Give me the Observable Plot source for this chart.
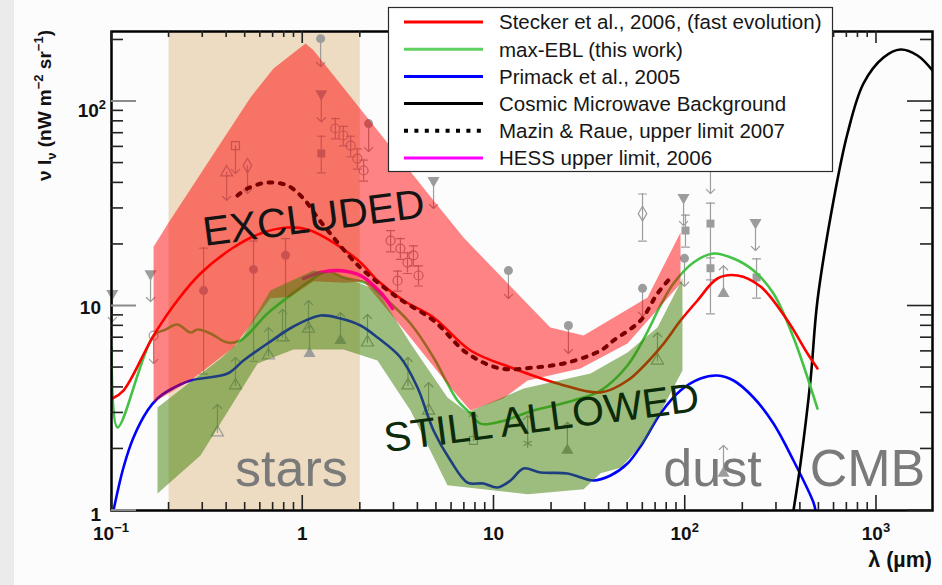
<!DOCTYPE html>
<html>
<head>
<meta charset="utf-8">
<script src="https://cdn.jsdelivr.net/npm/d3@7"></script>
<script src="https://cdn.jsdelivr.net/npm/@observablehq/plot@0.6"></script>
<style>
  html, body { margin: 0; padding: 0; background: #fcfcfd; }
  #wrap { position: relative; width: 942px; height: 585px; overflow: hidden; background: #fcfcfd; }
  #strip { position: absolute; left: 0; top: 0; width: 14px; height: 585px; background: #ebebeb; }
  #wrap svg { position: absolute; left: 0; top: 0; }
</style>
</head>
<body>
<div id="wrap"><div id="strip"></div></div>
<script>
// ---- axis ranges and ticks -------------------------------------------------
const xDomain = [0.1, 1963];            // wavelength, micrometres
const yDomain = [1, 220];               // nu I_nu, nW m^-2 sr^-1
const xMajor = [0.1, 1, 10, 100, 1000];
const xMajorText = ["10", "1", "10", "10", "10"];
const xMajorExp = ["-1", "", "", "2", "3"];
const xMinor = [0.2,0.3,0.4,0.5,0.6,0.7,0.8,0.9, 2,3,4,5,6,7,8,9, 20,30,40,50,60,70,80,90, 200,300,400,500,600,700,800,900];
const yMajor = [1, 10, 100];
const yMajorText = ["1", "10", "10"];
const yMajorExp = ["", "", "2"];
const yMinor = [2,3,4,5,6,7,8,9, 20,30,40,50,60,70,80,90, 200];

// stellar emission window
const starsRange = [0.2, 2];

// ---- model curves ------------------------------------------------------------
const steckerLam = [0.101,0.1155,0.166,0.221,0.292,0.434,0.601,0.832,1.059,1.448,2.004,2.459,3.364,4.83,7.54,12.65,21.5,36.1,49.9,74.2,94.5,115.9,147.4,187.6,247.5,342.4,435.7,491.4];
const steckerVal = [3.53,3.86,7.17,10.64,14.42,19.32,22.62,24.2,23.66,20.44,16.32,13.32,10.64,8.79,6.06,4.95,4.18,3.78,4.32,6.27,8.49,10.64,13.63,14.1,12.45,8.49,5.86,4.95];

const maxEblLam = [0.1,0.1075,0.166,0.1915,0.221,0.259,0.282,0.329,0.404,0.473,0.654,0.832,1.059,1.347,1.634,2.181,2.774,3.66,4.83,5.71,6.45,7.54,8.5,10.81,16.09,26.04,36.06,49.9,61.97,74.2,86.8,110.4,140.5,178.8,227.5,289.3,368.1,491.4];
const maxEblVal = [6.27,2.55,7.17,7.67,8.12,7.42,7.67,7.34,6.63,6.78,9.19,11.01,13.03,14.75,13.79,12.88,10.64,8.21,5.6,4.18,3.45,2.98,2.66,2.72,3.08,3.45,3.86,5.12,7.17,10.06,12.88,16.32,18.06,17.07,14.91,11.51,7.02,3.15];

const primackLam = [0.1024,0.1155,0.1303,0.1543,0.174,0.2035,0.2588,0.4042,0.49,0.654,0.8944,1.238,1.575,2.004,2.459,3.244,3.981,4.828,5.923,7.267,8.811,10.43,12.2,14.27,17.5,24.23,33.14,40.67,49.89,59.77,74.24,94.45,120.2,147.4,178.8,227.5,289.3,368.1,468.3,480];
const primackVal = [1,1.623,2.275,3.083,3.53,3.906,4.323,4.677,5.414,6.555,7.94,8.984,8.688,8.029,7.015,5.601,3.995,2.462,1.756,1.37,1.355,1.296,1.402,1.605,1.534,1.517,1.402,1.483,1.697,2.127,2.981,3.863,4.421,4.573,4.323,3.57,2.663,1.756,1.094,1.0];

const cmbLam = [368.1,400.6,451.7,491.4,596.2,705.3,855,1088,1335,1639,1963];
const cmbVal = [1,1.697,4.323,10.64,32.8,69.76,122.5,164.1,179.6,167.9,141.8];

const mazinLam = [0.456,0.514,0.654,0.832,1.009,1.194,1.448,1.777,2.078,3.129,4.828,7.267,10.81,16.09,24.23,36.06,42.16,58.34,71.6,85.8];
const mazinVal = [34.7,37.54,40.17,38.83,33.55,27.09,21.63,17.27,14.91,11.01,8.49,5.86,4.95,5.0,5.29,6.06,6.78,8.49,11.51,14.1];

const hessLam = [1.009,1.238,1.519,2.004,2.55,2.946];
const hessVal = [13.63,14.58,14.91,14.1,11.64,9.72];

// ---- excluded / allowed regions ---------------------------------------------
const excludedUpperLam = [0.166,0.199,0.533,0.703,1.034,1.138,4.83,6.93,19.7,29.4,63.5,94.5];
const excludedUpperVal = [19.5,25.6,104.6,145,192,178,32.8,21.6,7.85,7.17,11.0,22.9];
const excludedLowerLam = [0.166,0.259,0.434,0.678,0.863,1.138,1.673,2.078,3.66,5.92,7.54,11.2,15.0,28.3,49.9,94.5];
const excludedLowerVal = [3.38,4.32,6.27,10.9,11.1,13.2,13.0,13.2,7.0,4.0,3.08,3.53,4.32,4.95,6.56,12.9];

const allowedUpperLam = [0.174,0.372,0.473,0.678,1.138,1.448,2.004,2.459,3.66,5.71,7.27,14.3,32.0,49.9,71.6,96.7];
const allowedUpperVal = [3.19,5.54,6.78,11.9,14.9,14.4,12.9,11.9,6.56,3.57,3.02,3.95,4.68,5.92,7.85,13.6];
const allowedLowerLam = [0.174,0.292,0.58,0.894,1.634,2.459,3.66,5.71,15.0,29.4,36.1,45.9,62.0,96.7];
const allowedLowerVal = [1.21,1.86,5.23,6.13,6.13,5.41,3.08,1.33,1.20,1.27,1.52,1.62,2.20,4.84];

// ---- measurements: [lambda, value, marker] / [lambda, value, low, high, marker]
const upperLimits = [
  [1.24, 203, "circle"], [2.21, 78.0, "circle"], [11.9, 14.9, "circle"], [24.5, 8.03, "circle"],
  [59.8, 12.2, "circle"], [99.1, 17.1, "circle"], [0.166, 7.17, "circle-open"],
  [0.160, 14.4, "tridown"], [1.25, 109, "tridown"], [4.83, 41.1, "tridown"], [98.0, 33.9, "tridown"],
  [233, 25.6, "tridown"], [0.101, 11.5, "tridown"], [135.5, 48.6, "tridown"],
  [0.514, 48.6, "diamond-open"], [0.445, 60.9, "square-open"], [0.400, 45.0, "triangle-open"]
];
const lowerLimits = [
  [0.358, 2.41, "triangle-open"], [0.445, 4.09, "triangle-open"], [0.662, 5.73, "triangle-open"],
  [0.784, 7.02, "triangle-open"], [1.072, 7.76, "triangle-open"], [1.575, 6.78, "triangle"],
  [2.18, 6.63, "triangle-open"], [1.085, 5.86, "triangle"], [3.55, 4.09, "triangle-open"],
  [4.55, 3.08, "triangle-open"], [15.0, 2.13, "asterisk"], [24.2, 1.97, "triangle"],
  [7.81, 2.20, "square-open"], [71.6, 5.41, "triangle-open"], [158.5, 11.5, "triangle"], [158.5, 1.52, "triangle"]
];
const measurements = [
  [1.25, 55.7, 45, 68, "square"], [100.3, 23.4, 19.5, 28, "square"], [135.5, 25.3, 9.2, 32, "square"],
  [135.5, 15.3, 13.5, 17.3, "square"], [236, 13.8, 11.0, 17.1, "square"], [59.8, 28.3, 20.9, 35.5, "diamond-open"],
  [0.303, 11.9, 4.68, 19.3, "circle"], [0.553, 15.1, 5.4, 20.9, "circle"], [0.813, 17.7, 6.8, 21.5, "circle"],
  [1.48, 73.8, 66, 83, "circle-open"], [1.63, 68.2, 61, 76, "circle-open"], [1.78, 60.9, 54, 68, "circle-open"],
  [1.93, 52.6, 47, 59, "circle-open"], [2.08, 46.0, 41, 52, "circle-open"], [2.88, 20.9, 18.5, 23.5, "circle-open"],
  [3.24, 19.1, 17, 21.5, "circle-open"], [3.53, 16.3, 14.5, 18.3, "circle-open"], [3.79, 17.7, 15.8, 19.8, "circle-open"],
  [4.03, 14.1, 12.6, 15.8, "circle-open"], [3.13, 13.3, 11.9, 14.9, "circle-open"]
];

// ---- legend ---------------------------------------------------------------------
const legendLabels = [
  "Stecker et al., 2006, (fast evolution)",
  "max-EBL (this work)",
  "Primack et al., 2005",
  "Cosmic Microwave Background",
  "Mazin & Raue, upper limit 2007",
  "HESS upper limit, 2006"
];

// ---- build tables -------------------------------------------------------------------
const series = (lam, val) => lam.map((l, i) => ({lam: l, val: val[i]}));
const polygon = (uL, uV, lL, lV) => [...series(uL, uV), ...series(lL, lV).reverse()];

const stecker = series(steckerLam, steckerVal);
const maxEbl = series(maxEblLam, maxEblVal);
const primack = series(primackLam, primackVal);
const cmb = series(cmbLam, cmbVal);
const mazin = series(mazinLam, mazinVal);
const hess = series(hessLam, hessVal);
const excluded = polygon(excludedUpperLam, excludedUpperVal, excludedLowerLam, excludedLowerVal);
const allowed = polygon(allowedUpperLam, allowedUpperVal, allowedLowerLam, allowedLowerVal);

const markerSymbol = {"circle": "circle", "circle-open": "circle", "tridown": "triangle", "triangle": "triangle",
  "triangle-open": "triangle", "square": "square", "square-open": "square", "diamond-open": "diamond", "asterisk": "asterisk"};
const isOpen = m => m.endsWith("-open") || m === "asterisk";
const markers = [
  ...upperLimits.map(d => ({lam: d[0], val: d[1], m: d[2]})),
  ...lowerLimits.map(d => ({lam: d[0], val: d[1], m: d[2]})),
  ...measurements.map(d => ({lam: d[0], val: d[1], m: d[4]}))
];

const gray = "#9c9c9c";
const capShape = {draw(ctx) { ctx.moveTo(-4, 0); ctx.lineTo(4, 0); }};
const font = "'Liberation Sans', Arial, Helvetica, sans-serif";

const colors = {red: "#ff0000", green: "#44c244", blue: "#0000ff", black: "#000000", magenta: "#ff00ff"};
const lineOpts = {x: "lam", y: "val", strokeWidth: 2.6, curve: "catmull-rom", clip: true};

const plot = Plot.plot({
  width: 942, height: 585,
  marginLeft: 111, marginRight: 10, marginTop: 31, marginBottom: 75,
  x: {type: "log", domain: xDomain, axis: null},
  y: {type: "log", domain: yDomain, axis: null},
  style: {background: "transparent", fontFamily: font, overflow: "visible"},
  marks: [
    // stellar window
    Plot.rect([starsRange], {x1: d => d[0], x2: d => d[1], y1: yDomain[0], y2: yDomain[1], fill: "#eedcc2"}),

    // measurements
    Plot.ruleX(measurements, {x: d => d[0], y1: d => d[2], y2: d => d[3], stroke: gray, strokeWidth: 1.2}),
    Plot.vector(measurements, {x: d => d[0], y: d => d[2], length: 1, shape: capShape, stroke: gray, strokeWidth: 1.2}),
    Plot.vector(measurements, {x: d => d[0], y: d => d[3], length: 1, shape: capShape, stroke: gray, strokeWidth: 1.2}),
    Plot.vector(upperLimits, {x: d => d[0], y: d => d[1], rotate: 180, length: 28, anchor: "start", shape: "arrow", r: 2.6, stroke: gray, strokeWidth: 1.2}),
    Plot.vector(lowerLimits, {x: d => d[0], y: d => d[1], rotate: 0, length: 28, anchor: "start", shape: "arrow", r: 2.6, stroke: gray, strokeWidth: 1.2}),
    Plot.dot(markers.filter(d => !isOpen(d.m)), {x: "lam", y: "val", symbol: d => markerSymbol[d.m], rotate: d => d.m === "tridown" ? 180 : 0, fill: gray, r: 4.5}),
    Plot.dot(markers.filter(d => isOpen(d.m)), {x: "lam", y: "val", symbol: d => markerSymbol[d.m], fill: "none", stroke: gray, strokeWidth: 1.2, r: 4.5}),

    // models
    Plot.line(primack, {...lineOpts, stroke: colors.blue}),
    Plot.line(cmb, {...lineOpts, stroke: colors.black}),
    Plot.line(maxEbl, {...lineOpts, stroke: colors.green}),
    Plot.line(stecker, {...lineOpts, stroke: colors.red}),
    Plot.line(mazin, {...lineOpts, stroke: colors.black, strokeWidth: 4, strokeDasharray: "3.8 7.6"}),
    Plot.line(hess, {...lineOpts, stroke: colors.magenta, strokeWidth: 3.5}),

    // excluded and still-allowed regions
    Plot.line(excluded, {x: "lam", y: "val", fill: "rgb(255,0,0)", fillOpacity: 0.48, stroke: "none"}),
    Plot.line(allowed, {x: "lam", y: "val", fill: "rgb(60,125,0)", fillOpacity: 0.5, stroke: "none"}),

    // region labels
    Plot.text(["EXCLUDED"], {x: 1.14, y: 26.8, text: d => d, rotate: -7.5, fontSize: 41, fill: "#141414", textAnchor: "middle", lineAnchor: "middle"}),
    Plot.text(["STILL ALLOWED"], {x: 17.7, y: 2.82, text: d => d, rotate: -7.5, fontSize: 41, fill: "#0b2b0b", textAnchor: "middle", lineAnchor: "middle"}),
    Plot.text(["stars"], {x: 0.873, y: 1.586, text: d => d, fontSize: 52, fill: "#7a7a7a", textAnchor: "middle", lineAnchor: "middle"}),
    Plot.text(["dust"], {x: 138.8, y: 1.586, text: d => d, fontSize: 52, fill: "#7a7a7a", textAnchor: "middle", lineAnchor: "middle"}),
    Plot.text(["CMB"], {x: 897, y: 1.586, text: d => d, fontSize: 52, fill: "#7a7a7a", textAnchor: "middle", lineAnchor: "middle"}),

    Plot.frame({stroke: "black", strokeWidth: 2.5})
  ]
});

document.getElementById("wrap").appendChild(plot);

// ---- inner ticks, tick labels, titles and legend drawn with the plot's scales ----
const svg = d3.select(plot);
const sx = plot.scale("x"), sy = plot.scale("y");
const X = v => sx.apply(v), Y = v => sy.apply(v);
const [L, R] = sx.range, [B, T] = sy.range;

const ticks = svg.append("g").attr("stroke", "#222").attr("stroke-width", 1.6);
xMinor.forEach(v => {
  ticks.append("line").attr("x1", X(v)).attr("x2", X(v)).attr("y1", B).attr("y2", B - 8);
  ticks.append("line").attr("x1", X(v)).attr("x2", X(v)).attr("y1", T).attr("y2", T + 6);
});
xMajor.forEach(v => {
  ticks.append("line").attr("x1", X(v)).attr("x2", X(v)).attr("y1", B).attr("y2", B - 15);
  ticks.append("line").attr("x1", X(v)).attr("x2", X(v)).attr("y1", T).attr("y2", T + 12);
});
yMinor.forEach(v => {
  ticks.append("line").attr("y1", Y(v)).attr("y2", Y(v)).attr("x1", L).attr("x2", L + 12);
  ticks.append("line").attr("y1", Y(v)).attr("y2", Y(v)).attr("x1", R).attr("x2", R - 12);
});
yMajor.forEach(v => {
  ticks.append("line").attr("y1", Y(v)).attr("y2", Y(v)).attr("x1", L).attr("x2", L + 25).attr("stroke", "#8a8a8a").attr("stroke-width", 2);
  ticks.append("line").attr("y1", Y(v)).attr("y2", Y(v)).attr("x1", R).attr("x2", R - 25);
});

const labels = svg.append("g").attr("font-family", font).attr("font-weight", "bold").attr("font-size", 19).attr("fill", "#111");
function powerLabel(x, y, base, exp, anchor) {
  const t = labels.append("text").attr("x", x).attr("y", y).attr("text-anchor", anchor);
  t.append("tspan").text(base);
  if (exp) t.append("tspan").attr("dy", -8).attr("font-size", 13).text(exp.replace("-", "\u2212"));
}
xMajor.forEach((v, i) => powerLabel(X(v), B + 30, xMajorText[i], xMajorExp[i], "middle"));
yMajor.forEach((v, i) => {
  const shift = yMajorExp[i] ? 16 : (v === yDomain[0] ? 11 : 8);
  powerLabel(yMajorExp[i] ? 106 : 101, Y(v) + shift, yMajorText[i], yMajorExp[i], "end");
});

// axis titles
const xt = labels.append("text").attr("x", R).attr("y", 567).attr("text-anchor", "end").attr("font-size", 21.5);
xt.text("\u03bb (\u00b5m)");
const yt = labels.append("text").attr("transform", "translate(51,30) rotate(-90)").attr("text-anchor", "end").attr("font-size", 19);
yt.append("tspan").text("\u03bd I");
yt.append("tspan").attr("dy", 5).attr("font-size", 13).text("\u03bd");
yt.append("tspan").attr("dy", -5).text(" (nW m");
yt.append("tspan").attr("dy", -8).attr("font-size", 13).text("\u22122");
yt.append("tspan").attr("dy", 8).text(" sr");
yt.append("tspan").attr("dy", -8).attr("font-size", 13).text("\u22121");
yt.append("tspan").attr("dy", 8).text(")");

// legend
const legendStyles = [
  {stroke: colors.red}, {stroke: "#5fd05f"}, {stroke: colors.blue},
  {stroke: colors.black}, {stroke: colors.black, dash: "4 6.4", width: 4}, {stroke: colors.magenta}
];
const lg = svg.append("g");
lg.append("rect").attr("x", 388.5).attr("y", 7.5).attr("width", 444).attr("height", 164)
  .attr("fill", "#ffffff").attr("stroke", "#2a2a2a").attr("stroke-width", 1.2);
legendLabels.forEach((label, i) => {
  const y = 22 + i * 27.2;
  const s = legendStyles[i];
  lg.append("line").attr("x1", 404).attr("x2", 483).attr("y1", y).attr("y2", y)
    .attr("stroke", s.stroke).attr("stroke-width", s.width || 3).attr("stroke-dasharray", s.dash || null);
  lg.append("text").attr("x", 499).attr("y", y).attr("dy", "0.36em").attr("text-anchor", "start")
    .attr("font-family", font).attr("font-size", 20.5).attr("fill", "#161616").text(label);
});
</script>
</body>
</html>
